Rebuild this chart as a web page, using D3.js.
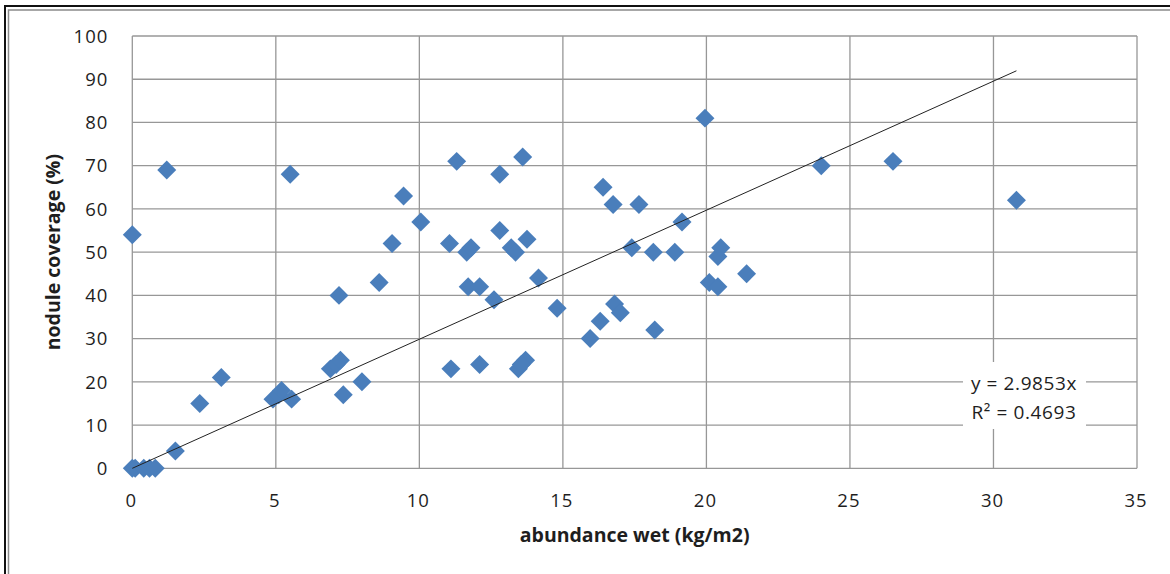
<!DOCTYPE html>
<html>
<head>
<meta charset="utf-8">
<script src="https://cdn.jsdelivr.net/npm/d3@7/dist/d3.min.js"></script>
<style>
  body { margin: 0; background: #fff; }
  text { font-family: "Open Sans", "Liberation Sans", sans-serif; fill: #1e1e1e; }
</style>
</head>
<body>
<svg id="chart" width="1170" height="574"></svg>
<script>
// abundance wet (kg/m2)
const abundance = [0, 0.1, 0.4, 0.6, 0.8, 0, 1.2, 1.5, 2.35, 3.1,
  4.9, 5.1, 5.2, 5.55, 5.5, 6.9, 7.1, 7.25, 7.2, 7.35,
  8.0, 8.6, 9.05, 9.45, 10.05, 11.05, 11.3, 11.65, 11.8, 11.7,
  12.1, 12.6, 11.1, 12.1, 12.8, 12.8, 13.2, 13.35, 13.6, 13.75,
  14.15, 13.45, 13.7, 13.55, 14.8, 15.95, 16.3, 16.4, 16.75, 16.8,
  17.0, 17.4, 17.65, 18.15, 18.2, 18.9, 19.15, 19.95, 20.1, 20.4,
  20.4, 20.5, 21.4, 24.0, 26.5, 30.8];
// nodule coverage (%)
const coverage = [0, 0, 0, 0, 0, 54, 69, 4, 15, 21,
  16, 17, 18, 16, 68, 23, 24, 25, 40, 17,
  20, 43, 52, 63, 57, 52, 71, 50, 51, 42,
  42, 39, 23, 24, 55, 68, 51, 50, 72, 53,
  44, 23, 25, 24, 37, 30, 34, 65, 61, 38,
  36, 51, 61, 50, 32, 50, 57, 81, 43, 42,
  49, 51, 45, 70, 71, 62];
const xTicks = [0, 5, 10, 15, 20, 25, 30, 35];
const yTicks = [0, 10, 20, 30, 40, 50, 60, 70, 80, 90, 100];
const slope = 2.9853;
const rSquared = "0.4693";

const svg = d3.select("#chart");
const plotLeft = 132.3, plotRight = 1137, plotTop = 36, plotBottom = 468.3;

const x = d3.scaleLinear().domain([0, 35]).range([plotLeft, plotRight]);
const y = d3.scaleLinear().domain([0, 100]).range([plotBottom, plotTop]);

// page frame
svg.append("rect").attr("x", 5).attr("y", 6).attr("width", 1200).attr("height", 600)
  .attr("fill", "none").attr("stroke", "#111").attr("stroke-width", 2);
svg.append("rect").attr("x", 8.5).attr("y", 10).attr("width", 1200).attr("height", 600)
  .attr("fill", "none").attr("stroke", "#8a8a8a").attr("stroke-width", 1.5);

// grid
const grid = svg.append("g").attr("stroke", "#979797").attr("stroke-width", 1.3);
grid.selectAll("line.v").data(xTicks).join("line").attr("class", "v")
  .attr("x1", d => x(d)).attr("x2", d => x(d)).attr("y1", plotTop).attr("y2", plotBottom);
grid.selectAll("line.h").data(yTicks).join("line").attr("class", "h")
  .attr("x1", plotLeft).attr("x2", plotRight).attr("y1", d => y(d)).attr("y2", d => y(d));

// tick labels
svg.append("g").selectAll("text").data(yTicks).join("text")
  .attr("x", plotLeft - 24).attr("y", d => y(d)).attr("dy", "0.36em")
  .attr("text-anchor", "end").style("font-size", "18.5px").style("letter-spacing", "1px")
  .text(d => d);
svg.append("g").selectAll("text").data(xTicks).join("text")
  .attr("x", d => x(d) - 1).attr("y", plotBottom + 32).attr("dy", "0.36em")
  .attr("text-anchor", "middle").style("font-size", "18.5px").style("letter-spacing", "1px")
  .text(d => d);

// axis titles
svg.append("text").attr("x", (plotLeft + plotRight) / 2).attr("y", 535).attr("dy", "0.36em")
  .attr("text-anchor", "middle").style("font-size", "19.5px").style("font-weight", "bold")
  .text("abundance wet (kg/m2)");
svg.append("text").attr("transform", `translate(53,${(plotTop + plotBottom) / 2}) rotate(-90)`)
  .attr("dy", "0.36em").attr("text-anchor", "middle")
  .style("font-size", "19.5px").style("font-weight", "bold")
  .text("nodule coverage (%)");

// points
const points = abundance.map((a, i) => ({ a, c: coverage[i] }));
const diamond = d3.symbol().type(d3.symbolSquare).size(180);
svg.append("g").selectAll("path").data(points).join("path")
  .attr("d", diamond)
  .attr("transform", d => `translate(${x(d.a)},${y(d.c)}) rotate(45)`)
  .attr("fill", "#4a7ebb");

// linear trendline through origin
const [xMin, xMax] = d3.extent(abundance);
svg.append("line")
  .attr("x1", x(xMin)).attr("y1", y(slope * xMin))
  .attr("x2", x(xMax)).attr("y2", y(slope * xMax))
  .attr("stroke", "#222").attr("stroke-width", 1);

// equation label
svg.append("rect").attr("x", 963).attr("y", 362).attr("width", 123).attr("height", 67)
  .attr("fill", "#fff");
const eq = svg.append("text").attr("text-anchor", "middle")
  .style("font-size", "19px").style("letter-spacing", "0.6px");
eq.append("tspan").attr("x", 1024).attr("y", 390).text(`y = ${slope}x`);
eq.append("tspan").attr("x", 1024).attr("y", 419).text("R² = " + rSquared);
</script>
</body>
</html>
